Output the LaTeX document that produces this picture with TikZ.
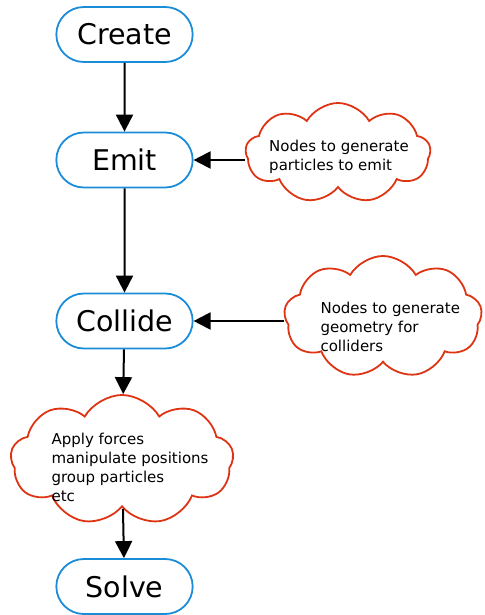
\documentclass[tikz,border=0pt]{standalone}
\usepackage{fontspec}
\setmainfont{DejaVu Sans}
\usetikzlibrary{arrows.meta,shapes.misc,shapes.symbols}

\definecolor{stageblue}{RGB}{26,140,216}
\definecolor{notered}{RGB}{222,52,20}

\tikzset{
  stage/.style={rounded rectangle, draw=stageblue, line width=1.8pt,
    minimum width=143pt, minimum height=55pt, font=\fontsize{28.5}{32}\selectfont},
  note/.style={cloud, draw=notered, line width=1.8pt, cloud puffs=9,
    cloud puff arc=120},
  notetext/.style={align=left, font=\fontsize{15}{19}\selectfont},
  flow/.style={line width=2pt, -{Triangle[length=17pt,width=17pt]}}
}

\begin{document}
\begin{tikzpicture}[x=1pt,y=-1pt]
\useasboundingbox (0,0) rectangle (484,615);

% stages
\node [stage] (create)  at (124.5,34.5) {Create};
\node [stage] (emit)    at (124.5,160)  {Emit};
\node [stage] (collide) at (124.5,321)  {Collide};
\node [stage] (solve)   at (124.5,586.5) {Solve};

% notes
\node [note, aspect=1.85, minimum width=185pt, minimum height=100pt] (emitnote) at (338,153) {};
\node [note, aspect=1.65, minimum width=198pt, minimum height=122pt] (collidenote) at (383,317) {};
\node [note, aspect=1.75, minimum width=223pt, minimum height=130pt] (forces) at (122,460) {};

\node [notetext] (emitnotetext) at (339,157) {Nodes to generate\\particles to emit};
\node [notetext, anchor=west] (collidenotetext) at (317,327) {Nodes to generate\\geometry for\\colliders};
\node [notetext, anchor=west] (forcestext) at (48,467) {Apply forces\\manipulate positions\\group particles\\etc};

% flow
\draw [flow] (create) -- (emit);
\draw [flow] (emit) -- (collide);
\draw [flow] (collide) -- (forces);
\draw [flow] (forces) -- (solve);
\draw [flow] (emitnote.west |- emit.east) -- (emit.east);
\draw [flow] (collidenote.west |- collide.east) -- (collide.east);

\end{tikzpicture}
\end{document}
